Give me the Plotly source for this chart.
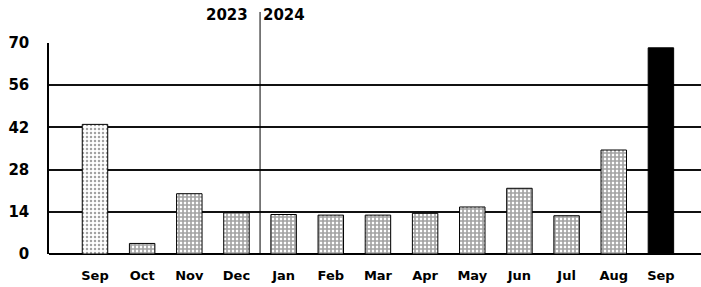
import plotly.graph_objects as go

months = ["Sep", "Oct", "Nov", "Dec", "Jan", "Feb", "Mar", "Apr", "May", "Jun", "Jul", "Aug", "Sep"]
values = [43, 3.5, 20, 13.7, 13.1, 12.9, 12.9, 13.5, 15.6, 21.8, 12.7, 34.5, 68.4]
y_ticks = [0, 14, 28, 42, 56, 70]
years = ["2023", "2024"]
x_pos = list(range(len(months)))

shapes_pat = ["."] + ["+"] * 11 + [""]
fill = ["white"] * 12 + ["black"]

fig = go.Figure()
fig.add_trace(go.Bar(
    x=x_pos, y=values, width=0.54,
    marker=dict(
        color=fill,
        line=dict(color="black", width=1),
        pattern=dict(shape=shapes_pat, fgcolor="black", bgcolor="white",
                     size=[4] + [4] * 11 + [4], solidity=[0.3] + [0.65] * 11 + [0.5],
                     fillmode="overlay"),
    ),
    showlegend=False,
))

FONT = "DejaVu Sans"
fig.update_layout(
    width=701, height=287,
    margin=dict(l=49, r=0, t=43, b=33, autoexpand=False),
    paper_bgcolor="white", plot_bgcolor="white",
    font=dict(family=FONT, color="black"),
    bargap=0.46,
)
fig.update_xaxes(
    range=[-0.975, 12.85], tickvals=x_pos, ticktext=months,
    tickfont=dict(size=13, family=FONT, weight="bold"),
    showgrid=False, ticks="", ticklabelstandoff=12, automargin=False,
    showline=False, zeroline=False,
)
fig.update_yaxes(
    range=[0, 70], tickvals=y_ticks, ticktext=[str(v) for v in y_ticks],
    tickfont=dict(size=15, family=FONT, weight="bold"),
    showgrid=True, gridcolor="#111", gridwidth=1.5,
    zeroline=True, zerolinecolor="black", zerolinewidth=2,
    showline=True, linecolor="black", linewidth=1.5,
    ticks="", ticklabelstandoff=15, automargin=False,
)
fig.add_shape(type="line", xref="x", yref="paper", x0=3.5, x1=3.5, y0=0, y1=1.147,
              line=dict(color="black", width=1))
fig.add_annotation(xref="x", yref="paper", x=3.5, y=1.133, text=years[0],
                   xanchor="right", yanchor="middle", showarrow=False, xshift=-10,
                   font=dict(size=15, family=FONT, weight="bold"))
fig.add_annotation(xref="x", yref="paper", x=3.5, y=1.133, text=years[1],
                   xanchor="left", yanchor="middle", showarrow=False, xshift=1,
                   font=dict(size=15, family=FONT, weight="bold"))

fig.write_html("out.html", config={"displayModeBar": False},
               post_script="document.body.style.margin='0px';document.body.style.overflow='hidden';")
